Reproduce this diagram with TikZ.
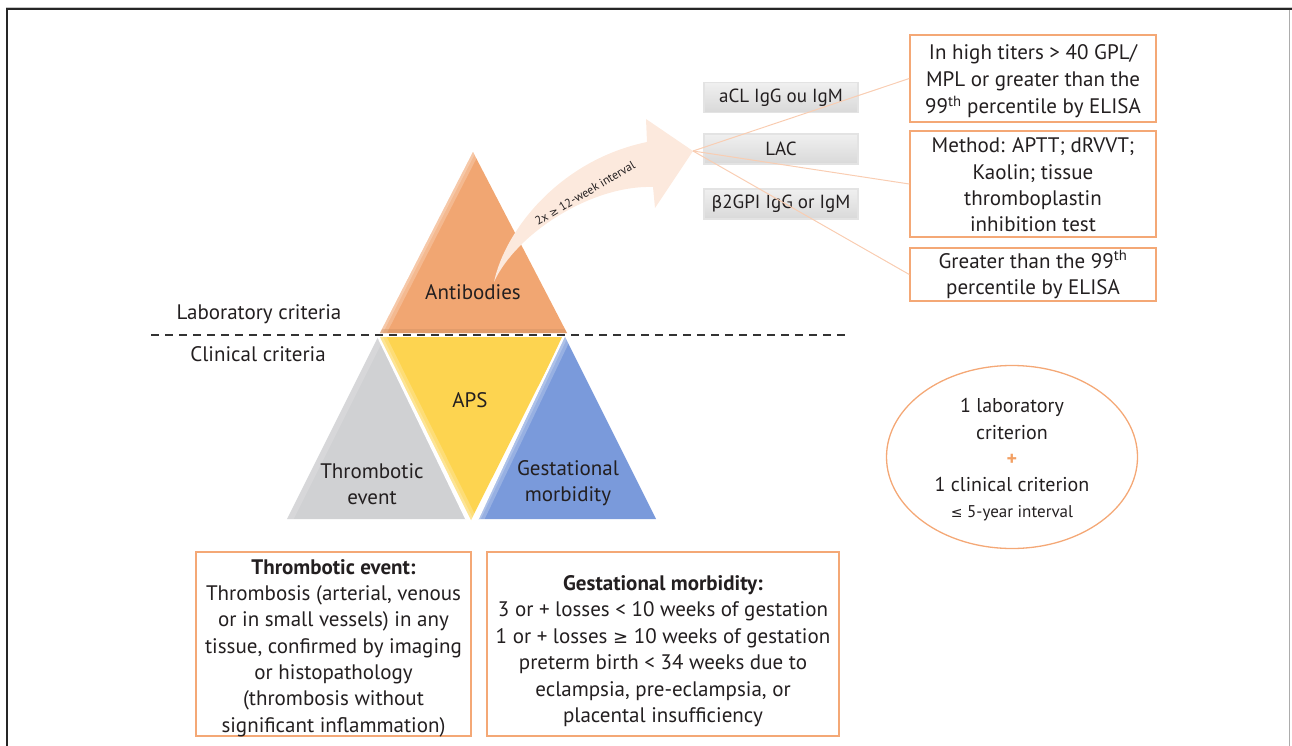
\documentclass[tikz,border=0pt]{standalone}
\usepackage{fontspec}
\setmainfont{PT Sans}
\newfontfamily\symf{DejaVu Sans}
\usetikzlibrary{shapes.geometric}
\definecolor{txt}{RGB}{35,31,32}
\definecolor{abor}{RGB}{241,166,114}
\definecolor{trigray}{RGB}{208,209,211}
\definecolor{triyel}{RGB}{253,212,80}
\definecolor{triblue}{RGB}{122,154,219}
\definecolor{arrowpale}{RGB}{252,233,221}
\definecolor{connc}{RGB}{249,205,178}
\definecolor{boxor}{RGB}{244,168,118}
\definecolor{plusc}{RGB}{242,160,100}
\tikzset{
  base/.style={text=txt, font=\fontsize{21}{26.3}\selectfont, align=center},
  obox/.style={draw=boxor, line width=1.5pt, fill=white, inner sep=0pt},
  gbox/.style={text=txt, font=\fontsize{19}{22}\selectfont, top color=gray!12, bottom color=gray!30, draw=gray!22, line width=1.2pt, minimum width=154pt, minimum height=30pt, inner sep=0pt},
  conn/.style={draw=connc, line width=1pt},
  lbl/.style={base},
  hlwide/.style={white, opacity=0.22, line width=12pt},
  hlthin/.style={white, opacity=0.22, line width=5pt}
}
\begin{document}
\begin{tikzpicture}[x=1pt,y=-1pt]
\useasboundingbox (0,0) rectangle (1292,746);
% frame
\draw[gray!45, line width=1pt] (6,7.5) -- (1292,7.5);
\draw[black!85, line width=1.6pt] (6.8,746) -- (6.8,9) -- (1292,9);
\draw[gray!65, line width=1.2pt] (1289.5,9.8) -- (1289.5,746);

% antibodies triangle
\fill[abor] (380,333) -- (473,152) -- (567,333) -- cycle;
\begin{scope}
  \clip (380,333) -- (473,152) -- (567,333) -- cycle;
  \draw[hlwide] (380,333) -- (473,152);
  \draw[hlthin] (380,333) -- (473,152);
  \fill[abor!80!black, opacity=0.3] (370,329) rectangle (580,336);
\end{scope}

% lower triangles
\fill[trigray] (287,519) -- (378,337) -- (466,519) -- cycle;
\begin{scope}
  \clip (287,519) -- (378,337) -- (466,519) -- cycle;
  \draw[hlwide, opacity=0.15] (287,519) -- (378,337);
\end{scope}
\fill[triyel] (380,337) -- (563,337) -- (471,520) -- cycle;
\begin{scope}
  \clip (380,337) -- (563,337) -- (471,520) -- cycle;
  \draw[hlwide] (380,337) -- (471,520);
  \draw[hlthin] (380,337) -- (471,520);
\end{scope}
\fill[triblue] (478,519) -- (565,337) -- (656,519) -- cycle;
\begin{scope}
  \clip (478,519) -- (565,337) -- (656,519) -- cycle;
  \draw[hlwide] (478,519) -- (565,337);
  \draw[hlthin] (478,519) -- (565,337);
\end{scope}
\draw[white, line width=1.5pt] (378,337) -- (466,519);
\draw[white, line width=1.5pt] (563,337) -- (478,519);

% dashed separator
\draw[black!80, line width=1.4pt, dash pattern=on 8pt off 6pt] (151,335) -- (848,335);

% curved arrow
\coordinate (tip) at (693,151);
\fill[arrowpale] (494,282) .. controls (505,230) and (560,160) .. (647,142)
  -- (646,119) -- (tip) -- (655,208) -- (653,187)
  .. controls (590,185) and (515,235) .. (494,282) -- cycle;
\node[text=txt, font=\fontsize{12}{14}\selectfont, rotate=31, inner sep=0pt] (intv) at (585,193) {2x {\symf\fontsize{10.5}{14}\selectfont ≥} 12-week interval};

% triangle labels
\node[lbl] (ab) at (473,292) {Antibodies};
\node[lbl] (aps) at (470,400) {APS};
\node[lbl] (te) at (372,484) {Thrombotic\\event};
\node[lbl] (gm) at (568,483) {Gestational\\morbidity};
\node[lbl] (lab) at (259,314) {Laboratory criteria};
\node[lbl] (cli) at (258,354) {Clinical criteria};

% gray antibody boxes
\node[gbox] (acl) at (781,97.5) {aCL IgG ou IgM};
\node[gbox] (lac) at (781,149) {LAC};
\node[gbox] (b2) at (781,204) {{\symf\fontsize{17}{22}\selectfont β}2GPI IgG or IgM};

% right description boxes
\node[obox, minimum width=246pt, minimum height=87pt] (d1) at (1033,78.5) {};
\node[base, font=\fontsize{21}{27}\selectfont] (d1t) at ([yshift=-3pt]d1.center)
  {In high titers > 40 GPL/\\MPL or greater than the\\99\textsuperscript{th} percentile by ELISA};
\node[obox, minimum width=246pt, minimum height=106pt] (d2) at (1033,184) {};
\node[base] (d2t) at ([yshift=-1pt]d2.center)
  {Method: APTT; dRVVT;\\Kaolin; tissue\\thromboplastin\\inhibition test};
\node[obox, minimum width=246pt, minimum height=53pt] (d3) at (1033,274.5) {};
\node[base] (d3t) at (d3.center)
  {Greater than the 99\textsuperscript{th}\\percentile by ELISA};

% connectors
\draw[conn] (tip) -- (d1.west);
\draw[conn] (tip) -- (d2.west);
\draw[conn] (tip) -- (d3.west);

% ellipse
\node[ellipse, draw=boxor, line width=1.3pt, minimum width=251pt, minimum height=183pt, inner sep=0pt] (ell) at (1012,457) {};
\node[text=txt, align=center, font=\fontsize{20}{26.3}\selectfont] (elltxt) at (1012,460) {1 laboratory\\criterion\\{\color{plusc}\textbf{+}}\\1 clinical criterion\\{\fontsize{17}{26.3}\selectfont{\symf\fontsize{14}{26}\selectfont ≤} 5-year interval}};

% bottom boxes
\node[obox, minimum width=275pt, minimum height=184pt] (tb) at (333.5,644) {};
\node[base] (tbt) at ([yshift=-4pt]tb.center)
  {\textbf{Thrombotic event:}\\Thrombosis (arterial, venous\\or in small vessels) in any\\tissue, confirmed by imaging\\or histopathology\\(thrombosis without\\significant inflammation)};
\node[obox, minimum width=352pt, minimum height=184pt] (gb) at (663,644) {};
\node[base, font=\fontsize{21}{26.5}\selectfont] (gbt) at ([yshift=-7pt]gb.center)
  {\textbf{Gestational morbidity:}\\3 or + losses < 10 weeks of gestation\\1 or + losses {\symf\fontsize{18}{26}\selectfont ≥} 10 weeks of gestation\\preterm birth < 34 weeks due to\\eclampsia, pre-eclampsia, or\\placental insufficiency};
\end{tikzpicture}
\end{document}
